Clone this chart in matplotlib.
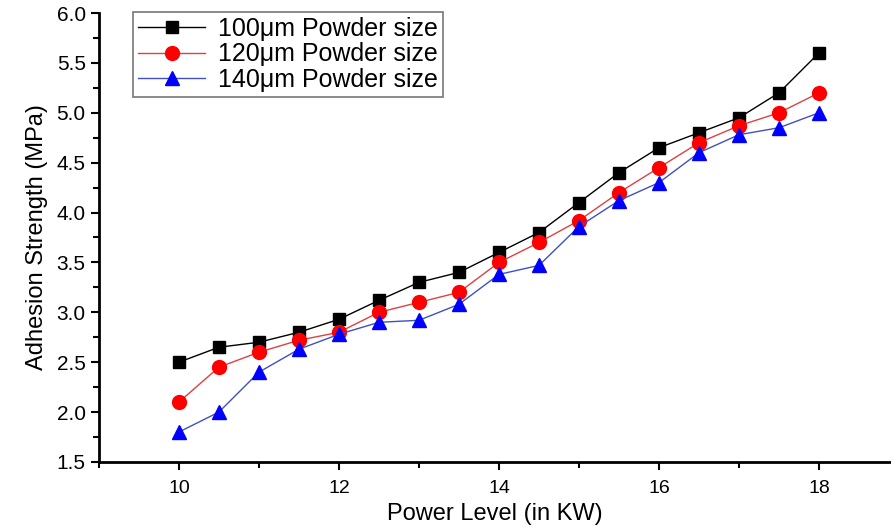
import matplotlib.pyplot as plt
from matplotlib.ticker import MultipleLocator

plt.rcParams['font.family'] = ['Liberation Sans', 'DejaVu Sans']

# data
power = [10, 10.5, 11, 11.5, 12, 12.5, 13, 13.5, 14, 14.5, 15, 15.5, 16, 16.5, 17, 17.5, 18]
s100 = [2.5, 2.65, 2.7, 2.8, 2.93, 3.12, 3.3, 3.4, 3.6, 3.8, 4.1, 4.4, 4.65, 4.8, 4.95, 5.2, 5.6]
s120 = [2.1, 2.45, 2.6, 2.72, 2.8, 3.0, 3.1, 3.2, 3.5, 3.7, 3.92, 4.2, 4.45, 4.7, 4.87, 5.0, 5.2]
s140 = [1.8, 2.0, 2.4, 2.63, 2.78, 2.9, 2.92, 3.08, 3.38, 3.47, 3.86, 4.12, 4.3, 4.6, 4.78, 4.85, 5.0]
labels = ["100\u03bcm Powder size", "120\u03bcm Powder size", "140\u03bcm Powder size"]

fig = plt.figure(figsize=(8.91, 5.31), dpi=100)
ax = fig.add_axes([0.111, 0.130, 0.889, 0.8455])

ax.plot(power, s100, color='black', lw=1, marker='s', ms=9, label=labels[0])
ax.plot(power, s120, color='#e04040', lw=1, marker='o', ms=10, mfc='red', mec='red', label=labels[1])
ax.plot(power, s140, color='#4050c0', lw=1, marker='^', ms=10, mfc='blue', mec='blue', label=labels[2])

ax.set_xlim(9, 18.9)
ax.set_ylim(1.5, 6.0)
ax.xaxis.set_major_locator(MultipleLocator(2))
ax.xaxis.set_minor_locator(MultipleLocator(1))
ax.yaxis.set_major_locator(MultipleLocator(0.5))
ax.yaxis.set_minor_locator(MultipleLocator(0.25))
ax.yaxis.set_major_formatter(plt.FormatStrFormatter('%.1f'))
ax.tick_params(which='major', direction='out', length=6, width=1.5)
ax.tick_params(which='minor', direction='out', length=4, width=1.5)
ax.tick_params(axis='x', labelsize=14, pad=7)
ax.tick_params(axis='y', labelsize=15)
for s in ['top', 'right']:
    ax.spines[s].set_visible(False)
for s in ['left', 'bottom']:
    ax.spines[s].set_linewidth(2)

ax.set_xlabel("Power Level (in KW)", fontsize=17, labelpad=4)
ax.set_ylabel("Adhesion Strength (MPa)", fontsize=17, labelpad=6)

leg = ax.legend(loc='upper left', bbox_to_anchor=(0.149, 0.977), bbox_transform=fig.transFigure,
                fontsize=18, frameon=True, fancybox=False, edgecolor='#555555',
                handlelength=2.7, borderpad=0.2, labelspacing=0.05, handletextpad=0.5,
                borderaxespad=0)
leg.get_frame().set_linewidth(1.2)

fig.savefig("out.png", dpi=100)
